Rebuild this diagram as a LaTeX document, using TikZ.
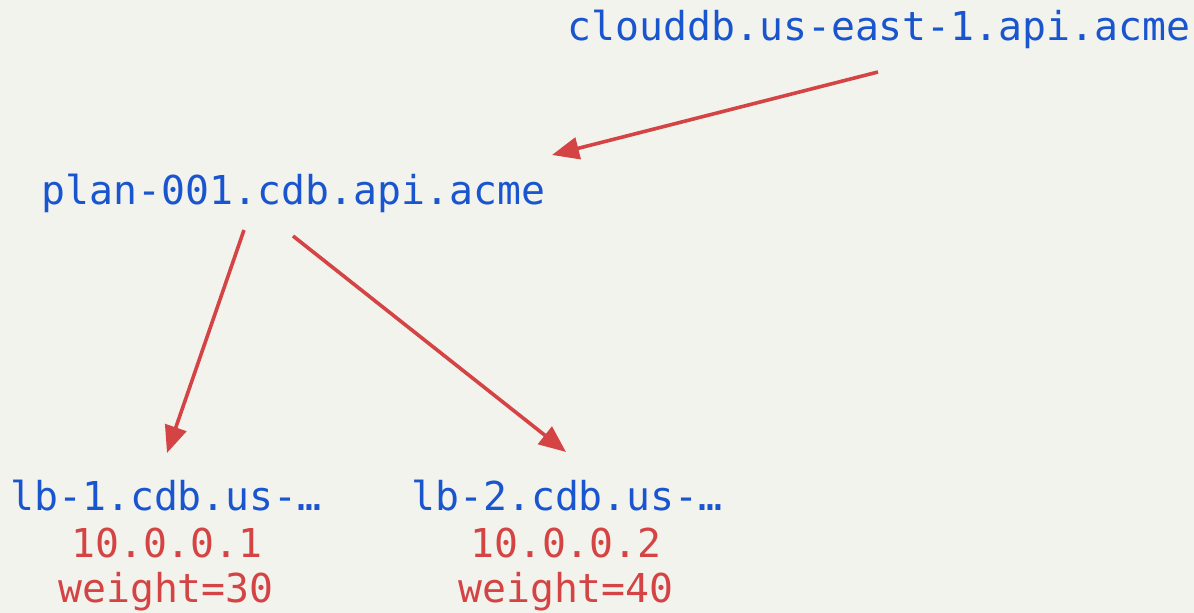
\documentclass[tikz,border=0pt]{standalone}
\usepackage{fontspec}
\setmonofont{DejaVu Sans Mono}
\usetikzlibrary{arrows.meta,calc}
\definecolor{bgpaper}{HTML}{F3F3EE}
\definecolor{hostblue}{HTML}{1A55D0}
\definecolor{linkred}{HTML}{D44444}
\tikzset{
  host/.style={anchor=base, inner sep=0pt, text=hostblue, font=\ttfamily\fontsize{19.9pt}{24pt}\selectfont},
  detail/.style={anchor=base, inner sep=0pt, text=linkred, font=\ttfamily\fontsize{19.9pt}{24pt}\selectfont},
  link/.style={draw=linkred, line width=1.8pt, -{Triangle[length=13.5pt,width=11pt]}}
}
\begin{document}
\begin{tikzpicture}[x=0.5pt,y=-0.5pt]
  \fill[bgpaper] (0,0) rectangle (1194,613);
  \useasboundingbox (0,0) rectangle (1194,613);

  % DNS names
  \node[host] (cloud) at (879,41) {clouddb.us-east-1.api.acme};
  \node[host] (plan) at (293.5,205) {plan-001.cdb.api.acme};
  \node[host] (lbone) at (166,511) {lb-1.cdb.us-…};
  \node[host] (lbtwo) at (567,511) {lb-2.cdb.us-…};

  % load balancer details
  \node[detail] (ipone) at (167,558) {10.0.0.1};
  \node[detail] (wone) at (166,603) {weight=30};
  \node[detail] (iptwo) at (566,558) {10.0.0.2};
  \node[detail] (wtwo) at (566,603) {weight=40};

  % resolution links
  \draw[link] ($(cloud.base)+(-1,31)$) -- ($(plan.base)+(258.5,-50)$);
  \draw[link] ($(plan.base)+(-49.5,25)$) -- ($(lbone.base)+(1,-58)$);
  \draw[link] ($(plan.base)+(-0.5,31)$) -- ($(lbtwo.base)+(-1,-59)$);
\end{tikzpicture}
\end{document}
